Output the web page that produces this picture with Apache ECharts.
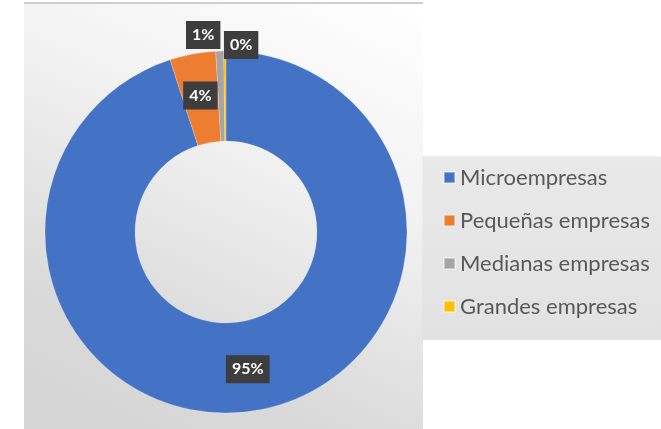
<!DOCTYPE html>
<html>
<head>
<meta charset="utf-8">
<script src="https://cdn.jsdelivr.net/npm/echarts@6/dist/echarts.min.js"></script>
<style>
  html, body { margin: 0; padding: 0; background: #fff; }
  #wrap { position: relative; width: 661px; height: 429px; overflow: hidden; }
  /* fondo del área del gráfico */
  #area {
    position: absolute; left: 24px; top: 2px; width: 399px; height: 427px;
    border-top: 2px solid #cfcfcf;
    background: linear-gradient(205deg, #ffffff 0%, #f2f2f2 35%, #dadada 75%, #d4d4d4 100%);
  }
  /* fondo de la leyenda */
  #legbox {
    position: absolute; left: 423px; top: 157px; width: 238px; height: 183px;
    background: linear-gradient(180deg, #e9e9e9 0%, #e2e2e2 100%);
    box-shadow: 0 -1px 2px rgba(0,0,0,0.08);
  }
  #main { position: absolute; left: 0; top: 0; width: 661px; height: 429px; }
</style>
</head>
<body>
<div id="wrap">
  <div id="area"></div>
  <div id="legbox"></div>
  <div id="main"></div>
</div>
<script>
// datos
const categories = ['Microempresas', 'Pequeñas empresas', 'Medianas empresas', 'Grandes empresas'];
const values = [95.0, 4.1, 0.7, 0.2];
const colors = ['#4472C4', '#ED7D31', '#A5A5A5', '#FFC000'];

let myChart = echarts.init(document.getElementById('main'));
let data = categories.map((name, i) => ({
  name: name,
  value: values[i],
  itemStyle: { color: colors[i] }
}));

let option = {
  backgroundColor: 'transparent',
  animation: false,
  legend: {
    orient: 'vertical',
    left: 438,
    top: 161,
    icon: 'rect',
    itemWidth: 11,
    itemHeight: 11,
    itemGap: 20,
    selectedMode: false,
    textStyle: {
      fontFamily: 'Lato',
      fontSize: 22,
      lineHeight: 23,
      color: '#595959'
    },
    data: categories
  },
  series: [{
    type: 'pie',
    center: [226, 232],
    radius: [91, 181],
    startAngle: 90,
    clockwise: true,
    avoidLabelOverlap: false,
    itemStyle: { borderColor: 'rgba(255,255,255,0.4)', borderWidth: 0.5 },
    label: {
      show: true,
      position: 'inside',
      formatter: (p) => Math.round(p.percent) + '%',
      color: '#fff',
      fontFamily: 'Lato',
      fontWeight: 'bold',
      fontSize: 16,
      backgroundColor: '#3d3d3d',
      padding: [7, 6, 5, 6]
    },
    labelLine: { show: false },
    // mover etiquetas pequeñas hacia fuera
    labelLayout: (p) => {
      if (p.dataIndex === 2) return { dx: -18, dy: -58 };
      if (p.dataIndex === 3) return { dx: 16, dy: -48 };
      return {};
    },
    emphasis: { disabled: true },
    data
  }]
};
myChart.setOption(option);
</script>
</body>
</html>
